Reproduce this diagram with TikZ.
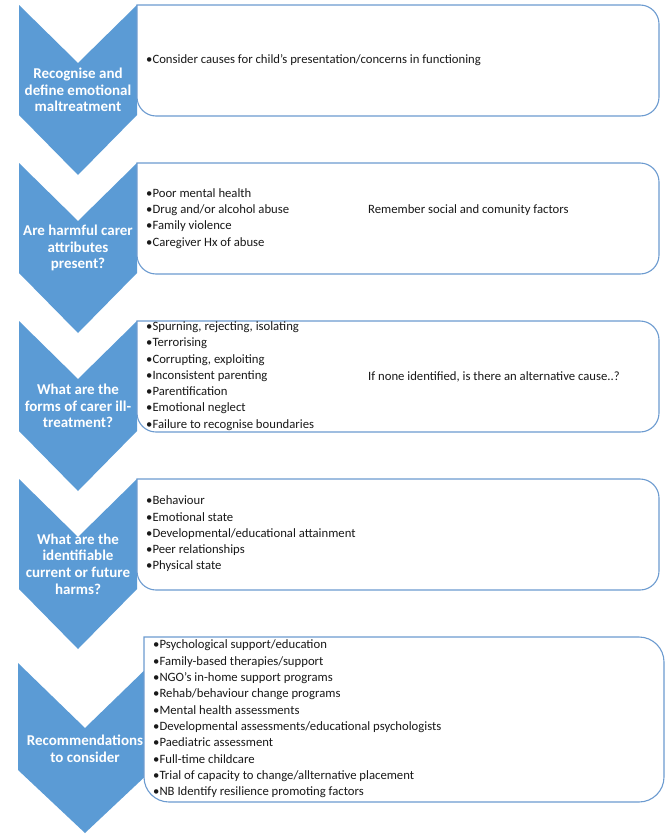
\documentclass[tikz,border=0pt]{standalone}
\usepackage{fontspec}
\setmainfont{Carlito}
\definecolor{chev}{RGB}{91,155,213}
\definecolor{boxln}{RGB}{108,155,208}
\newcommand\myrbox[5]{\draw[boxshape] (#1,#3) [rounded corners=#5] -- (#2,#3) -- (#2,#4) -- (#1,#4) [sharp corners] -- cycle;}
\newcommand\mychev[7]{\fill[chevshape] (#1,#3) -- ({(#1+#2)/2},#3+#4) -- (#2,#3) -- (#2,#5) -- ({(#1+#2)/2},#6) -- (#1,#5) -- cycle;}
\begin{document}
\begin{tikzpicture}[x=1pt,y=-1pt,
 chevshape/.style={fill=chev},
 boxshape/.style={draw=boxln, line width=1.1pt, fill=white},
 chevtext/.style={text=white, font=\fontsize{15}{16.7}\selectfont\bfseries, align=center, inner sep=0pt},
 bodytext/.style={font=\fontsize{12.7}{16.3}\selectfont, align=left, anchor=west, inner sep=0pt, text=black!90}]
\useasboundingbox (0,0) rectangle (667,838);
% chevrons
\mychev{19}{137}{5}{58}{115}{175}{}
\mychev{19}{137}{163}{58}{273}{333}{}
\mychev{19}{137}{321}{58}{431}{491}{}
\mychev{19}{137}{479}{58}{589}{649}{}
\mychev{18}{152}{663}{65}{770}{833}{}
% boxes
\myrbox{137}{659}{5}{116}{19pt}
\myrbox{137}{659}{163}{274}{19pt}
\myrbox{137}{659}{321}{432}{19pt}
\myrbox{137}{659}{479}{590}{19pt}
\myrbox{144}{664}{637}{802}{25pt}
% chevron texts
\node[chevtext] (c1) at (78,90) {Recognise and\\define emotional\\maltreatment};
\node[chevtext] (c2) at (78,248) {Are harmful carer\\attributes\\present?};
\node[chevtext] (c3) at (78,406) {What are the\\forms of carer ill-\\treatment?};
\node[chevtext] (c4) at (78,564) {What are the\\identifiable\\current or future\\harms?};
\node[chevtext] (c5) at (85,749) {Recommendations\\to consider};
% box texts
\node[bodytext] (t1) at (146,60.5) {•Consider causes for child's presentation/concerns in functioning};
\node[bodytext] (t2) at (146,218.5) {•Poor mental health\\•Drug and/or alcohol abuse\\•Family violence\\•Caregiver Hx of abuse};
\node[bodytext] (r2) at (368,210.5) {Remember social and comunity factors};
\node[bodytext] (t3) at (146,376) {•Spurning, rejecting, isolating\\•Terrorising\\•Corrupting, exploiting\\•Inconsistent parenting\\•Parentification\\•Emotional neglect\\•Failure to recognise boundaries};
\node[bodytext] (r3) at (368,376.5) {If none identified, is there an alternative cause..?};
\node[bodytext] (t4) at (146,534) {•Behaviour\\•Emotional state\\•Developmental/educational attainment\\•Peer relationships\\•Physical state};
\node[bodytext] (t5) at (153,719) {•Psychological support/education\\•Family-based therapies/support\\•NGO's in-home support programs\\•Rehab/behaviour change programs\\•Mental health assessments\\•Developmental assessments/educational psychologists\\•Paediatric assessment\\•Full-time childcare\\•Trial of capacity to change/allternative placement\\•NB Identify resilience promoting factors};
\end{tikzpicture}
\end{document}
